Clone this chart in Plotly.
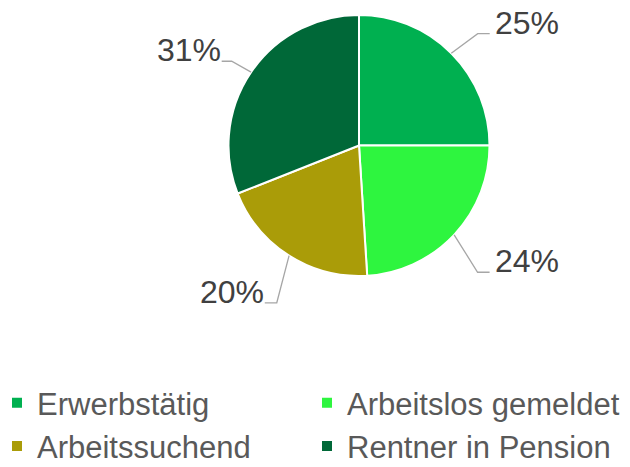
import math
import plotly.graph_objects as go

# ---- data ----
categories = ["Erwerbstätig", "Arbeitslos gemeldet", "Arbeitssuchend", "Rentner in Pension"]
values = [25, 24, 20, 31]
label_texts = ["25%", "24%", "20%", "31%"]

# ---- style ----
colors = ["#00B050", "#2EF53F", "#AA9C08", "#006838"]
W, H = 630, 467
PAGE_OFFSET = 8                          # default page body margin
CX, CY, R = 359.0 - PAGE_OFFSET, 145.5 - PAGE_OFFSET, 130.5   # pie centre / radius (px)
elbow_factor = [1.25, 1.33, 1.36, 1.17]  # leader elbow radius (relative to R)
elbow_turn = [1.7, 3.7, -4.8, -0.7]      # leader elbow angle shift (degrees)
HSEG = [12, 12, 12, 10]                  # horizontal leader segment length
GAP_R, GAP_L = 4, 0
LABEL_DY = -11
FONT = "Liberation Sans, Arial, sans-serif"

def px_x(x):
    return x / W

def px_y(y):
    return 1 - y / H

fig = go.Figure()
fig.add_trace(go.Pie(
    labels=categories,
    values=values,
    sort=False,
    direction="clockwise",
    rotation=0,
    marker=dict(colors=colors, line=dict(color="white", width=2)),
    textinfo="none",
    hoverinfo="label+percent",
    domain=dict(x=[px_x(CX - R), px_x(CX + R)], y=[px_y(CY + R), px_y(CY - R)]),
))

shapes = []
annotations = []
total = sum(values)
cum = 0.0
for i, v in enumerate(values):
    mid = (cum + v / 2) / total * 2 * math.pi
    cum += v
    sx, sy = CX + R * math.sin(mid), CY - R * math.cos(mid)
    ea = mid + math.radians(elbow_turn[i])
    ex, ey = CX + R * elbow_factor[i] * math.sin(ea), CY - R * elbow_factor[i] * math.cos(ea)
    right = math.sin(mid) > 0
    hx = ex + HSEG[i] if right else ex - HSEG[i]
    path = f"M{px_x(sx)},{px_y(sy)} L{px_x(ex)},{px_y(ey)} L{px_x(hx)},{px_y(ey)}"
    shapes.append(dict(type="path", path=path, xref="paper", yref="paper",
                       line=dict(color="#A6A6A6", width=1.3)))
    annotations.append(dict(
        text=label_texts[i], xref="paper", yref="paper",
        x=px_x(hx + (GAP_R if right else -GAP_L)), y=px_y(ey + LABEL_DY),
        xanchor="left" if right else "right", yanchor="middle",
        borderpad=0,
        showarrow=False, font=dict(family=FONT, size=32, color="#404040"),
    ))

fig.update_layout(
    width=W, height=H,
    margin=dict(l=0, r=0, t=0, b=0),
    paper_bgcolor="white",
    plot_bgcolor="white",
    shapes=shapes,
    annotations=annotations,
    showlegend=True,
    legend=dict(
        orientation="h",
        x=0.0, xanchor="left",
        y=2 / H, yanchor="bottom",
        indentation=-11,
        entrywidth=276, entrywidthmode="pixels",
        font=dict(family=FONT, size=31, color="#595959"),
        itemsizing="constant",
    ),
)

fig.write_html("out.html")
